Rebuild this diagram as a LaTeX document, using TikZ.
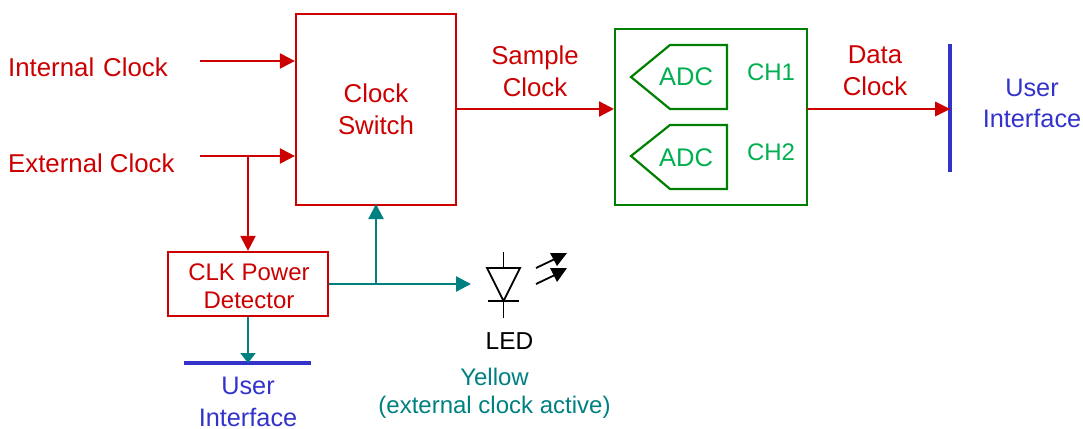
\documentclass[tikz,border=0pt]{standalone}
\usepackage{fontspec}
\setmainfont{Liberation Sans}
\usetikzlibrary{arrows.meta}
\definecolor{cred}{RGB}{204,0,0}
\definecolor{cteal}{RGB}{0,128,128}
\definecolor{cblue}{RGB}{51,51,204}
\definecolor{cgreen}{RGB}{0,128,0}
\definecolor{ctext}{RGB}{0,176,80}
\tikzset{
 x=1pt,y=-1pt,
 txt/.style={font=\fontsize{25.8}{32}\selectfont,inner sep=0pt,align=center},
 redtxt/.style={txt,text=cred},
 bluetxt/.style={txt,text=cblue,font=\fontsize{25.3}{31.5}\selectfont},
 greentxt/.style={txt,text=ctext},
 tealtxt/.style={txt,text=cteal},
 redbox/.style={draw=cred,line width=2.2pt,inner sep=0pt,minimum width=0pt,rectangle},
 redarrow/.style={draw=cred,line width=2.2pt,-{Triangle[length=15pt,width=15pt]}},
 tealarrow/.style={draw=cteal,line width=2.2pt,-{Triangle[length=15pt,width=15pt]}},
 tealline/.style={draw=cteal,line width=2.2pt},
 blackline/.style={draw=black,line width=1.8pt},
 bar/.style={draw=cblue,line width=4pt},
 adcshape/.style={draw=cgreen,line width=2.2pt,line join=miter},
}
\begin{document}
\begin{tikzpicture}
\useasboundingbox (0,0) rectangle (1083,428);
% boxes
\node[redbox,minimum width=160pt,minimum height=191pt] (sw) at (376,109.5) {};
\node[redtxt] (swt) at (376,109) {Clock\\Switch};
\node[redbox,minimum width=160pt,minimum height=64pt] (det) at (248,284) {};
\node[txt,text=cred,font=\fontsize{24}{28.5}\selectfont] (dett) at (249,286) {CLK Power\\Detector};
\node[draw=cgreen,line width=2.2pt,inner sep=0pt,minimum width=192pt,minimum height=176pt] (adc) at (711,117) {};
% adc shapes
\draw[adcshape] (631,77) -- (670,45) -- (727,45) -- (727,109) -- (670,109) -- cycle;
\draw[adcshape] (631,156) -- (670,125) -- (727,125) -- (727,189) -- (670,189) -- cycle;
\node[greentxt,font=\fontsize{25.5}{30}\selectfont] (a1) at (686,77) {ADC};
\node[greentxt,font=\fontsize{25.5}{30}\selectfont] (a2) at (686,158) {ADC};
\node[greentxt,font=\fontsize{24}{30}\selectfont] (c1) at (771,72) {CH1};
\node[greentxt,font=\fontsize{24}{30}\selectfont] (c2) at (771,152) {CH2};
% labels
\node[redtxt,anchor=west] (ic) at (8,67) {Internal\hspace{9pt}Clock};
\node[redtxt,anchor=west] (ec) at (8,163) {External Clock};
\node[redtxt] (sc) at (535,71) {Sample\\Clock};
\node[redtxt] (dc) at (875,71) {Data\\Clock};
\node[bluetxt] (ui1) at (1032,103.5) {User\\Interface};
\node[bluetxt] (ui2) at (248,402) {User\\Interface};
\node[txt,text=black,font=\fontsize{24.5}{28}\selectfont] (led) at (509.5,341) {LED};
\node[tealtxt,font=\fontsize{24}{28}\selectfont] (yl) at (494.5,393) {Yellow\\(external clock active)};
% bars
\coordinate (b1a) at (950,44); \coordinate (b1b) at (950,172);
\coordinate (b2a) at (184,363); \coordinate (b2b) at (311,363);
\draw[bar] (b1a) -- (b1b);
\draw[bar] (b2a) -- (b2b);
% connectors
\coordinate (i0) at (200,61); \coordinate (e0) at (200,156); \coordinate (ej) at (248,156);
\coordinate (tj) at (376,284); \coordinate (ledin) at (471,284);
\coordinate (sctail) at (456,109); \coordinate (schead) at (614,109);
\coordinate (dctail) at (807,109); \coordinate (dchead) at (950,109);
\coordinate (swin) at (376,204);
\coordinate (uihead) at (248,363);
\draw[redarrow] (i0) -- (sw.west |- i0);
\draw[redarrow] (e0) -- (sw.west |- e0);
\draw[redarrow] (ej) -- (det.north -| ej);
\draw[redarrow] (sctail) -- (schead);
\draw[draw=cred,line width=2.2pt] (dctail) -- (dchead);
\fill[cred] (950,109) -- (935,101.5) -- (935,116.5) -- cycle;
\draw[tealline] (det.east |- tj) -- (tj);
\draw[tealarrow] (tj) -- (ledin);
\draw[tealarrow] (tj) -- (swin);
\draw[draw=cteal,line width=2.2pt,-{Triangle[length=10pt,width=15pt]}] (det.south -| uihead) -- (uihead);
% LED
\draw[blackline,line join=miter] (487,268) -- (520,268) -- (503.5,301) -- cycle;
\draw[blackline] (488,301) -- (519,301);
\draw[blackline] (503.5,252) -- (503.5,268);
\draw[blackline] (503.5,301) -- (503.5,318);
\draw[blackline] (536,268) -- (557,258);
\draw[blackline] (536,284) -- (557,274);
\fill[black] (550,253) -- (567,253) -- (557,266) -- cycle;
\fill[black] (550,268) -- (567,268) -- (557,282) -- cycle;
\end{tikzpicture}
\end{document}
